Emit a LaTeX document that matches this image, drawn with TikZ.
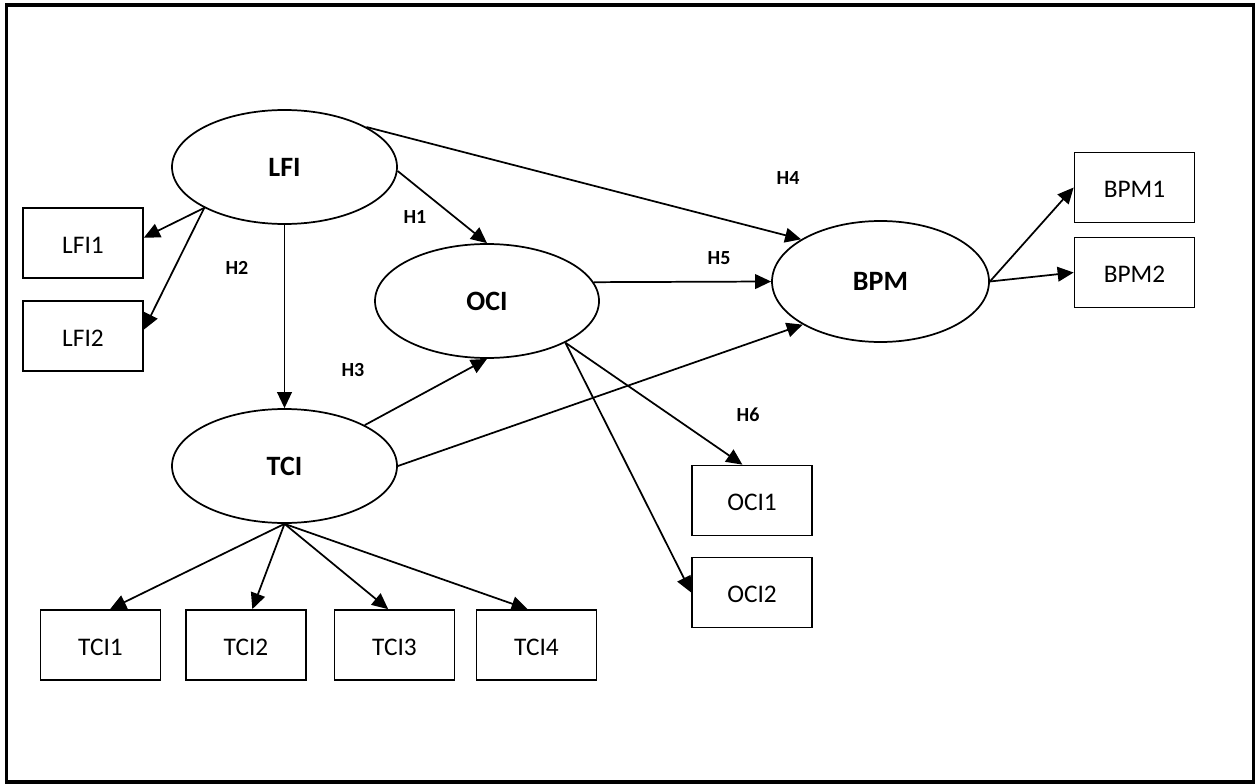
\documentclass[tikz,border=0pt]{standalone}
\usepackage{fontspec}
\setmainfont{Carlito}
\usetikzlibrary{shapes.geometric,arrows.meta}
\begin{document}
\begin{tikzpicture}[x=0.75pt,y=-0.75pt,
  latent/.style={ellipse,draw,line width=1.3pt,inner sep=0pt},
  latentname/.style={anchor=base,font=\bfseries\fontsize{21}{25}\selectfont},
  indicator/.style={rectangle,draw,line width=1.3pt,inner sep=0pt,
    minimum width=90pt,minimum height=52.5pt},
  indname/.style={anchor=base,yshift=-1.5pt,font=\fontsize{19}{23}\selectfont},
  hyp/.style={font=\bfseries\fontsize{15}{18}\selectfont,inner sep=0pt},
  link/.style={line width=1.3pt,-{Triangle[length=12pt,width=11pt]}}
]
\useasboundingbox (0,0) rectangle (1255,784);
% outer frame
\draw[line width=2.6pt] (6.5,5) rectangle (1253.5,782);

% latent constructs
\node[latent,minimum width=168.75pt,minimum height=85.5pt,
  label={[latentname]center:LFI}] (LFI) at (284.5,167) {};
\node[latent,minimum width=168.75pt,minimum height=85.5pt,
  label={[latentname]center:TCI}] (TCI) at (284.5,466) {};
\node[latent,minimum width=168pt,minimum height=85.5pt,
  label={[latentname]center:OCI}] (OCI) at (487,301) {};
\node[latent,minimum width=162.75pt,minimum height=90.75pt,
  label={[latentname]center:BPM}] (BPM) at (880.5,281.5) {};

% indicators
\node[indicator,label={[indname]center:LFI1}] (LFI1) at (83,243) {};
\node[indicator,label={[indname]center:LFI2}] (LFI2) at (83,336) {};
\node[indicator,label={[indname]center:BPM1}] (BPM1) at (1134.5,187.5) {};
\node[indicator,label={[indname]center:BPM2}] (BPM2) at (1134.5,272.5) {};
\node[indicator,label={[indname]center:OCI1}] (OCI1) at (752,500.5) {};
\node[indicator,label={[indname]center:OCI2}] (OCI2) at (752,592.5) {};
\node[indicator,label={[indname]center:TCI1}] (TCI1) at (100.5,645) {};
\node[indicator,label={[indname]center:TCI2}] (TCI2) at (246,645) {};
\node[indicator,label={[indname]center:TCI3}] (TCI3) at (394.5,645) {};
\node[indicator,label={[indname]center:TCI4}] (TCI4) at (536.5,645) {};

% structural paths
\draw[link] (LFI.south) -- (TCI.north);
\draw[link] (LFI.358) -- (OCI.north);
\draw[link] (LFI.26) -- (BPM.152);
\draw[link] (OCI.10) -- (BPM.west);
\draw[link] (TCI.27) -- (OCI.south);
\draw[link] (TCI.east) -- (BPM.209);

% measurement paths
\draw[link] (LFI.207) -- (LFI1.5);
\draw[link] (LFI.207) -- (LFI2.6);
\draw[link] (OCI.332) -- (OCI1.105);
\draw[link] (OCI.332) -- (OCI2.west);
\draw[link] (BPM.east) -- (BPM1.west);
\draw[link] (BPM.east) -- (BPM2.west);
\draw[link] (TCI.south) -- (TCI1.75);
\draw[link] (TCI.south) -- (TCI2.80);
\draw[link] (TCI.south) -- (TCI3.100);
\draw[link] (TCI.south) -- (TCI4.104);

% hypothesis labels
\node[hyp] (h1) at (415,217) {H1};
\node[hyp] (h2) at (237,268) {H2};
\node[hyp] (h3) at (353,370) {H3};
\node[hyp] (h4) at (788,178) {H4};
\node[hyp] (h5) at (719,258) {H5};
\node[hyp] (h6) at (748,415) {H6};
\end{tikzpicture}
\end{document}
